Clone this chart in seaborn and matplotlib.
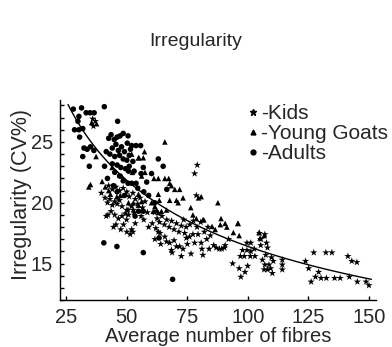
import numpy as np
import pandas as pd
import matplotlib
matplotlib.use("Agg")
import matplotlib.pyplot as plt
import seaborn as sns
from matplotlib.ticker import MultipleLocator

sns.set_theme(style="ticks")
plt.rcParams['font.family'] = ['Liberation Sans', 'DejaVu Sans']

# ---------------- data ----------------
kids_x = [35.9, 37.0, 36.2,
          39.5, 42.2, 44.5, 49.3, 49.9, 51.4, 52.0, 51.9, 55.9,
          41.0, 42.0, 43.0, 44.0, 45.0, 46.0, 47.0, 48.0, 42.5, 44.0, 45.5, 47.0, 48.5, 50.0,
          51.0, 52.5, 53.5, 54.5, 55.5, 56.5, 57.5, 43.5, 45.0, 46.5, 48.0, 50.5, 53.0, 45.5,
          47.5, 50.0, 53.5, 57.0, 58.5, 59.0, 41.5, 48.6, 52.5, 50.0, 50.7, 52.7,
          61.6, 63.0, 63.7, 65.7, 66.4, 67.7, 68.4, 68.7, 70.5, 71.8, 73.2, 72.5, 73.9, 74.6,
          75.9, 77.3, 78.0, 79.4, 80.7, 81.0, 81.4,
          61.5, 62.5, 63.5, 64.5, 65.5, 66.5, 67.5, 68.5, 69.5, 70.5, 71.5, 72.5, 73.5, 74.5,
          76.0, 77.5, 79.0, 80.5, 82.0, 83.5, 84.5, 60.5, 62.0, 64.0, 69.5, 75.0, 76.5,
          79.1, 78.0, 78.7,
          85.9, 86.9, 88.2, 89.2, 90.3, 90.6, 83.0, 84.0, 93.7, 96.4, 97.1, 98.8, 99.9, 96.9,
          98.5, 101.0, 102.9, 97.8, 99.6, 101.2, 102.6, 99.6, 101.2, 105.3, 105.3, 107.0, 104.8,
          106.0, 107.0, 108.7, 109.4, 110.1, 108.1, 106.7, 107.4, 109.7, 110.5, 114.2, 114.2,
          114.2, 108.1, 107.7, 92.0,
          127.2, 132.2, 134.7, 141.3, 142.9, 145.0, 123.8, 125.1, 129.2, 126.1, 127.9, 130.2,
          132.4, 135.8, 138.1, 141.9, 145.2, 148.8, 150.0]
kids_y = [26.9, 26.7, 26.3,
          20.8, 19.0, 18.0, 19.1, 18.6, 17.4, 17.8, 19.7, 18.9,
          20.4, 20.0, 20.3, 19.8, 20.1, 19.9, 20.2, 19.7, 21.4, 21.1, 21.3, 21.0, 21.2, 20.9,
          20.5, 20.8, 20.3, 19.9, 20.4, 19.6, 20.1, 19.3, 19.0, 18.7, 18.9, 19.4, 19.2, 18.2,
          17.8, 17.6, 18.3, 18.6, 19.2, 18.0, 18.9, 18.2, 17.6, 19.4, 19.0, 19.4,
          17.0, 17.6, 17.5, 17.2, 16.8, 16.7, 16.1, 15.9, 16.4, 16.4, 16.2, 15.6, 17.5, 17.1,
          17.2, 17.4, 16.7, 17.4, 16.7, 16.2, 15.7,
          19.2, 18.7, 18.4, 18.9, 18.2, 18.6, 18.0, 18.5, 17.8, 18.3, 17.6, 18.1, 18.6, 18.0,
          18.2, 18.5, 18.0, 18.4, 17.6, 18.0, 17.3, 18.3, 17.9, 16.6, 16.9, 16.6, 15.8,
          23.1, 22.4, 20.6,
          16.5, 16.3, 16.2, 16.2, 16.3, 16.5, 17.0, 16.2, 15.0, 14.6, 13.9, 14.3, 14.8, 15.6,
          15.6, 15.6, 15.6, 16.1, 16.1, 16.0, 16.2, 16.7, 16.7, 17.0, 16.5, 17.4, 17.5,
          15.3, 14.9, 14.9, 14.6, 14.2, 14.5, 14.5, 15.7, 15.5, 15.2, 15.3, 14.9,
          14.5, 16.3, 16.7, 17.0,
          15.9, 15.9, 15.9, 15.6, 15.2, 15.1, 15.2, 14.6, 14.3, 13.5, 13.9, 13.8,
          13.8, 13.8, 13.8, 13.9, 13.5, 13.5, 13.2]

young_x = [35.5, 37.5, 37.3, 35.0, 34.3, 39.8, 41.1, 42.5, 43.2, 45.9, 47.3, 49.6, 54.8,
           52.7, 50.7, 56.1, 57.5, 47.9, 43.9, 54.8, 57.3, 52.0, 55.0, 56.8, 65.7, 52.3,
           61.2, 63.0, 65.7, 67.3, 67.7, 68.4, 69.8, 71.8, 63.0, 67.7, 70.5, 76.4, 54.8, 56.1,
           62.3, 60.9, 63.0, 64.3, 66.4, 60.2, 61.6, 63.4, 71.2, 73.2, 77.3, 78.7, 81.8, 79.6,
           80.7, 87.6, 85.2, 86.5, 88.6, 88.9, 90.6, 91.3, 94.0, 96.0, 96.4, 104.6, 106.7,
           105.0, 81.4, 95.8]
young_y = [26.6, 26.5, 23.8, 21.5, 21.3, 21.75, 21.3, 21.0, 20.7, 20.5, 20.6, 20.7, 20.7,
           20.0, 20.0, 22.2, 22.5, 22.2, 22.9, 23.7, 24.2, 24.0, 23.7, 23.7, 25.0, 22.5,
           22.0, 22.0, 22.0, 22.0, 21.6, 21.4, 21.1, 21.1, 20.7, 20.2, 20.2, 19.6, 19.8, 20.1,
           19.4, 19.3, 19.2, 19.3, 19.4, 20.0, 19.7, 20.2, 20.0, 20.4, 19.0, 18.7, 18.6, 20.4,
           20.5, 20.0, 18.05, 17.8, 18.2, 18.7, 18.3, 18.0, 17.55, 18.3, 17.3, 17.55, 17.3,
           17.1, 18.6, 18.3]

adults_x = [27.9, 31.3, 40.7, 33.2, 34.8, 36.5, 30.2, 29.8, 46.2, 28.4, 30.2, 31.8, 30.5,
            32.3, 33.6, 35.0, 31.8, 34.5, 36.4,
            42.5, 43.5, 44.8, 46.0, 47.2, 48.5, 50.5, 45.5, 44.0, 46.5, 47.8, 49.0, 50.2, 51.5,
            52.0, 53.8, 55.7, 43.0, 45.0, 47.0, 48.5, 50.0, 51.0, 52.5, 44.0, 46.0, 47.5, 49.5,
            51.0, 53.0, 45.0, 47.0, 48.5, 50.5, 52.0, 53.8, 54.5, 50.7, 55.9, 58.2, 57.0, 44.5,
            46.0, 49.0, 56.8, 63.0, 65.0, 60.2, 66.5,
            40.5, 45.9, 56.8, 68.9, 54.8, 53.4, 56.8, 63.3, 41.5, 40.8, 42.0, 59.0, 61.5]
adults_y = [27.7, 27.8, 27.9, 27.4, 27.4, 27.4, 27.1, 26.7, 26.7, 26.0, 26.0, 26.1, 25.4,
            24.5, 24.4, 24.6, 23.8, 23.0, 24.3,
            25.3, 25.6, 25.2, 25.4, 25.5, 25.7, 25.5, 24.8, 24.5, 24.3, 24.6, 24.2, 24.9, 24.4,
            24.7, 24.7, 24.7, 24.0, 23.8, 23.9, 23.6, 23.5, 23.9, 23.4, 23.2, 23.1, 22.9, 22.8,
            23.0, 22.6, 22.5, 22.2, 21.8, 21.6, 21.6, 21.6, 21.2, 22.6, 22.4, 21.7, 20.9, 21.4,
            20.9, 20.6, 22.9, 23.6, 23.0, 22.4, 21.1,
            16.7, 16.4, 15.9, 13.7, 19.3, 18.9, 19.3, 17.1, 24.2, 23.0, 22.0, 20.6, 20.0]

# fitted curve, read at a few positions
curve_x = [25.7, 50.0, 80.7, 100.0, 117.6, 151.0]
curve_y = [28.07, 21.9, 17.8, 16.5, 15.36, 13.66]

groups = ["Kids", "Young Goats", "Adults"]
legend_labels = ["-Kids", "-Young Goats", "-Adults"]
title = "Irregularity"
xlabel = "Average number of fibres"
ylabel = "Irregularity (CV%)"
xticks = [25, 50, 75, 100, 125, 150]
yticks = [15, 20, 25]

# ---------------- figure ----------------
fig = plt.figure(figsize=(3.92, 3.47), dpi=100)
ax = fig.add_axes([60 / 392, 1 - 300 / 347, 316 / 392, 200 / 347])

df = pd.concat([
    pd.DataFrame({"x": kids_x, "y": kids_y, "g": groups[0]}),
    pd.DataFrame({"x": young_x, "y": young_y, "g": groups[1]}),
    pd.DataFrame({"x": adults_x, "y": adults_y, "g": groups[2]}),
])

markers = {"Kids": "*", "Young Goats": "^", "Adults": "o"}
sizes = {"Kids": 30, "Young Goats": 16, "Adults": 16}
handles = []
for g, lab in zip(groups, legend_labels):
    sub = df[df.g == g]
    sns.scatterplot(data=sub, x="x", y="y", marker=markers[g], s=sizes[g],
                    color="black", edgecolor="none", linewidth=0, ax=ax, zorder=3)
    handles.append(plt.Line2D([], [], marker=markers[g], color="black", linestyle="none",
                              markersize=3.5 if g != "Kids" else 4.5, label=lab))

# smooth fitted curve (quadratic in log x through the read values)
coef = np.polyfit(np.log(curve_x), curve_y, 2)
xs = np.linspace(curve_x[0], curve_x[-1], 200)
fit_df = pd.DataFrame({"x": xs, "y": np.polyval(coef, np.log(xs))})
sns.lineplot(data=fit_df, x="x", y="y", color="black", linewidth=1.0, ax=ax, zorder=4)

ax.set_xlim(22.4, 152.9)
ax.set_ylim(12.0, 28.45)
ax.set_xticks(xticks)
ax.set_yticks(yticks)
ax.yaxis.set_minor_locator(MultipleLocator(1))
ax.tick_params(axis="both", which="both", direction="in", length=3, width=1,
               color="black", labelsize=14.5)
ax.tick_params(axis="x", which="major", pad=6)
ax.tick_params(axis="y", which="both", pad=5)
ax.tick_params(axis="y", which="minor", length=3)
for side in ["top", "right"]:
    ax.spines[side].set_visible(False)
for side in ["left", "bottom"]:
    ax.spines[side].set_linewidth(1.0)
    ax.spines[side].set_color("black")

ax.set_xlabel(xlabel, fontsize=14.5)
ax.xaxis.label.set_va("baseline")
ax.xaxis.set_label_coords(0.5, -0.208)
ax.set_ylabel(ylabel, fontsize=15.5)
ax.yaxis.set_label_coords(-0.088, 0.525)

ax.legend(handles=handles, loc="upper left", bbox_to_anchor=(0.565, 1.02),
          frameon=False, fontsize=15, handlelength=0.6, handletextpad=0.1,
          labelspacing=0.05, borderaxespad=0)

fig.text(0.5, 1 - 41 / 347, title, ha="center", va="center", fontsize=14)

fig.savefig("out.png", dpi=100)
